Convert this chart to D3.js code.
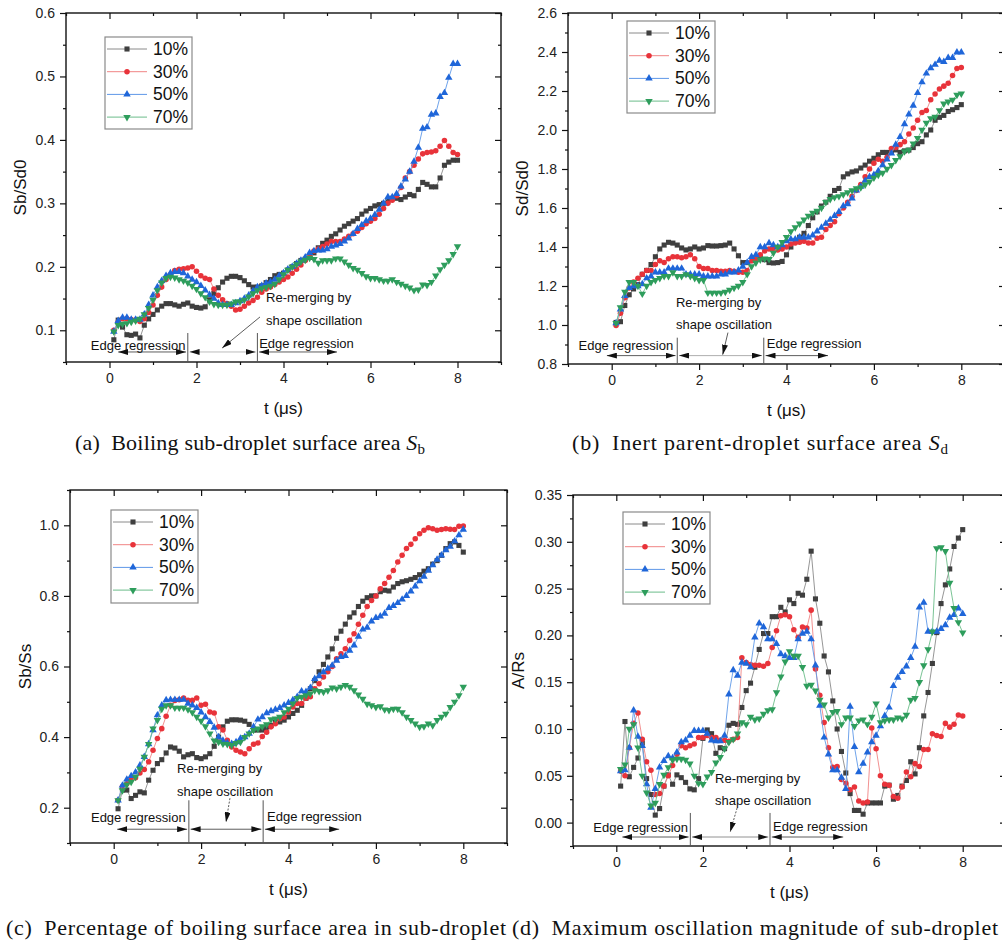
<!DOCTYPE html>
<html>
<head>
<meta charset="utf-8">
<script src="https://cdn.jsdelivr.net/npm/d3@7"></script>
<style>
  body { margin: 0; background: #fff; }
  svg { display: block; font-family: Arial, "Liberation Sans", sans-serif; }
</style>
</head>
<body>
<svg id="chart" width="1002" height="945"></svg>
<script>
(function() {
    "use strict";

    // sampling times, t (us)
    var tValues = [
        0.1, 0.2, 0.3, 0.4, 0.5, 0.6, 0.7, 0.8, 0.9, 1.0,
        1.1, 1.2, 1.3, 1.4, 1.5, 1.6, 1.7, 1.8, 1.9, 2.0,
        2.1, 2.2, 2.3, 2.4, 2.5, 2.6, 2.7, 2.8, 2.9, 3.0,
        3.1, 3.2, 3.3, 3.4, 3.5, 3.6, 3.7, 3.8, 3.9, 4.0,
        4.1, 4.2, 4.3, 4.4, 4.5, 4.6, 4.7, 4.8, 4.9, 5.0,
        5.1, 5.2, 5.3, 5.4, 5.5, 5.6, 5.7, 5.8, 5.9, 6.0,
        6.1, 6.2, 6.3, 6.4, 6.5, 6.6, 6.7, 6.8, 6.9, 7.0,
        7.1, 7.2, 7.3, 7.4, 7.5, 7.6, 7.7, 7.8, 7.9, 8.0
    ];
    var seriesNames = ["10%", "30%", "50%", "70%"];

    // (a) Sb/Sd0
    var sbSd0_10 = [
        0.085, 0.116, 0.105, 0.093, 0.092, 0.094, 0.088, 0.108, 0.118, 0.125,
        0.132, 0.138, 0.142, 0.142, 0.140, 0.138, 0.141, 0.143, 0.138, 0.136,
        0.135, 0.137, 0.148, 0.158, 0.167, 0.176, 0.182, 0.185, 0.185, 0.183,
        0.178, 0.172, 0.168, 0.168, 0.170, 0.175, 0.180, 0.186, 0.188, 0.190,
        0.195, 0.200, 0.205, 0.210, 0.212, 0.215, 0.222, 0.230, 0.237, 0.242,
        0.248, 0.252, 0.258, 0.264, 0.268, 0.272, 0.276, 0.283, 0.288, 0.292,
        0.296, 0.298, 0.300, 0.304, 0.308, 0.308, 0.306, 0.310, 0.314, 0.312,
        0.322, 0.333, 0.330, 0.326, 0.326, 0.340, 0.360, 0.365, 0.368, 0.368
    ];
    var sbSd0_30 = [
        0.100, 0.113, 0.118, 0.118, 0.117, 0.116, 0.114, 0.118, 0.128, 0.140,
        0.155, 0.168, 0.180, 0.188, 0.194, 0.196, 0.197, 0.198, 0.200, 0.193,
        0.186, 0.182, 0.180, 0.165, 0.155, 0.148, 0.142, 0.138, 0.132, 0.133,
        0.138, 0.143, 0.147, 0.152, 0.160, 0.165, 0.168, 0.172, 0.176, 0.180,
        0.184, 0.190, 0.196, 0.203, 0.210, 0.218, 0.225, 0.228, 0.232, 0.236,
        0.240, 0.240, 0.240, 0.244, 0.248, 0.252, 0.256, 0.262, 0.268, 0.272,
        0.276, 0.283, 0.292, 0.300, 0.305, 0.312, 0.325, 0.340, 0.350, 0.360,
        0.370, 0.378, 0.380, 0.381, 0.383, 0.390, 0.399, 0.390, 0.380, 0.377
    ];
    var sbSd0_50 = [
        0.098, 0.115, 0.120, 0.120, 0.117, 0.117, 0.117, 0.125, 0.140, 0.155,
        0.168, 0.178, 0.186, 0.190, 0.192, 0.192, 0.190, 0.185, 0.180, 0.176,
        0.170, 0.163, 0.156, 0.150, 0.143, 0.140, 0.140, 0.140, 0.143, 0.146,
        0.150, 0.155, 0.162, 0.168, 0.170, 0.174, 0.176, 0.180, 0.186, 0.190,
        0.196, 0.200, 0.205, 0.210, 0.215, 0.222, 0.225, 0.226, 0.226, 0.228,
        0.232, 0.234, 0.236, 0.240, 0.245, 0.252, 0.260, 0.266, 0.272, 0.276,
        0.282, 0.290, 0.300, 0.310, 0.310, 0.315, 0.327, 0.338, 0.350, 0.366,
        0.388, 0.418, 0.420, 0.440, 0.442, 0.468, 0.474, 0.498, 0.520, 0.520
    ];
    var sbSd0_70 = [
        0.098, 0.108, 0.110, 0.111, 0.113, 0.115, 0.118, 0.125, 0.135, 0.148,
        0.163, 0.175, 0.182, 0.184, 0.183, 0.180, 0.178, 0.175, 0.170, 0.165,
        0.158, 0.152, 0.145, 0.141, 0.140, 0.140, 0.140, 0.142, 0.145, 0.145,
        0.148, 0.153, 0.158, 0.163, 0.166, 0.168, 0.170, 0.173, 0.180, 0.188,
        0.195, 0.200, 0.204, 0.208, 0.211, 0.214, 0.212, 0.206, 0.210, 0.210,
        0.210, 0.213, 0.213, 0.208, 0.203, 0.198, 0.195, 0.190, 0.185, 0.182,
        0.182, 0.180, 0.178, 0.178, 0.180, 0.176, 0.173, 0.170, 0.167, 0.163,
        0.164, 0.172, 0.171, 0.176, 0.186, 0.196, 0.203, 0.210, 0.220, 0.232
    ];

    // (b) Sd/Sd0
    var sdSd0_10 = [
        1.013, 1.017, 1.100, 1.155, 1.185, 1.207, 1.260, 1.280, 1.310, 1.350,
        1.390, 1.410, 1.424, 1.420, 1.410, 1.395, 1.385, 1.390, 1.400, 1.390,
        1.395, 1.407, 1.405, 1.405, 1.407, 1.410, 1.420, 1.390, 1.355, 1.320,
        1.320, 1.330, 1.345, 1.345, 1.335, 1.320, 1.318, 1.320, 1.326, 1.360,
        1.400, 1.430, 1.450, 1.470, 1.510, 1.550, 1.580, 1.610, 1.630, 1.660,
        1.690, 1.700, 1.760, 1.775, 1.785, 1.790, 1.805, 1.820, 1.840, 1.855,
        1.873, 1.885, 1.885, 1.885, 1.898, 1.885, 1.893, 1.897, 1.910, 1.930,
        1.940, 1.975, 2.000, 2.050, 2.065, 2.075, 2.095, 2.104, 2.115, 2.130
    ];
    var sdSd0_30 = [
        0.998, 1.060, 1.140, 1.190, 1.220, 1.240, 1.260, 1.280, 1.280, 1.310,
        1.330, 1.320, 1.340, 1.350, 1.350, 1.345, 1.350, 1.360, 1.340, 1.300,
        1.290, 1.290, 1.280, 1.280, 1.275, 1.275, 1.280, 1.275, 1.270, 1.270,
        1.280, 1.330, 1.340, 1.360, 1.380, 1.390, 1.390, 1.385, 1.390, 1.400,
        1.415, 1.420, 1.425, 1.430, 1.420, 1.420, 1.445, 1.450, 1.490, 1.510,
        1.530, 1.570, 1.600, 1.630, 1.660, 1.690, 1.720, 1.760, 1.800, 1.830,
        1.850, 1.840, 1.860, 1.905, 1.910, 1.925, 1.940, 1.980, 2.010, 2.050,
        2.090, 2.100, 2.155, 2.185, 2.210, 2.225, 2.240, 2.280, 2.315, 2.320
    ];
    var sdSd0_50 = [
        1.010, 1.080, 1.150, 1.190, 1.200, 1.200, 1.210, 1.240, 1.250, 1.270,
        1.270, 1.270, 1.290, 1.290, 1.290, 1.290, 1.260, 1.260, 1.260, 1.260,
        1.250, 1.250, 1.250, 1.250, 1.260, 1.260, 1.270, 1.270, 1.280, 1.300,
        1.320, 1.350, 1.360, 1.400, 1.400, 1.420, 1.410, 1.400, 1.410, 1.430,
        1.440, 1.440, 1.450, 1.450, 1.450, 1.460, 1.480, 1.500, 1.520, 1.540,
        1.560, 1.580, 1.610, 1.620, 1.650, 1.690, 1.710, 1.740, 1.760, 1.770,
        1.790, 1.820, 1.850, 1.880, 1.925, 1.965, 2.030, 2.080, 2.125, 2.190,
        2.245, 2.290, 2.318, 2.335, 2.356, 2.350, 2.370, 2.370, 2.398, 2.398
    ];
    var sdSd0_70 = [
        1.010, 1.090, 1.170, 1.220, 1.220, 1.200, 1.160, 1.200, 1.220, 1.230,
        1.240, 1.250, 1.250, 1.270, 1.250, 1.250, 1.260, 1.250, 1.240, 1.230,
        1.230, 1.165, 1.165, 1.165, 1.165, 1.170, 1.180, 1.190, 1.200, 1.220,
        1.260, 1.300, 1.320, 1.335, 1.340, 1.338, 1.370, 1.400, 1.425, 1.450,
        1.480, 1.500, 1.520, 1.540, 1.560, 1.575, 1.585, 1.600, 1.630, 1.645,
        1.655, 1.660, 1.670, 1.680, 1.690, 1.700, 1.705, 1.720, 1.735, 1.755,
        1.770, 1.780, 1.800, 1.820, 1.845, 1.865, 1.890, 1.898, 1.930, 1.958,
        2.000, 2.036, 2.060, 2.067, 2.100, 2.135, 2.145, 2.155, 2.180, 2.186
    ];

    // (c) Sb/Ss
    var sbSs_10 = [
        0.197, 0.250, 0.250, 0.226, 0.235, 0.245, 0.242, 0.278, 0.306, 0.325,
        0.336, 0.355, 0.372, 0.369, 0.360, 0.344, 0.350, 0.353, 0.342, 0.339,
        0.344, 0.353, 0.374, 0.400, 0.429, 0.445, 0.449, 0.449, 0.448, 0.445,
        0.436, 0.420, 0.420, 0.420, 0.425, 0.433, 0.443, 0.443, 0.448, 0.457,
        0.467, 0.476, 0.490, 0.510, 0.537, 0.560, 0.585, 0.606, 0.627, 0.650,
        0.680, 0.700, 0.720, 0.740, 0.752, 0.770, 0.785, 0.795, 0.800, 0.800,
        0.812, 0.816, 0.814, 0.825, 0.835, 0.840, 0.843, 0.847, 0.852, 0.860,
        0.870, 0.877, 0.890, 0.900, 0.915, 0.934, 0.948, 0.953, 0.943, 0.924
    ];
    var sbSs_30 = [
        0.221, 0.260, 0.268, 0.282, 0.285, 0.298, 0.308, 0.330, 0.363, 0.396,
        0.424, 0.459, 0.490, 0.504, 0.506, 0.511, 0.504, 0.504, 0.511, 0.490,
        0.493, 0.471, 0.468, 0.429, 0.420, 0.391, 0.372, 0.363, 0.358, 0.353,
        0.367, 0.380, 0.383, 0.402, 0.414, 0.429, 0.438, 0.452, 0.457, 0.471,
        0.485, 0.495, 0.495, 0.510, 0.514, 0.537, 0.551, 0.570, 0.585, 0.600,
        0.622, 0.636, 0.650, 0.674, 0.693, 0.720, 0.745, 0.770, 0.787, 0.800,
        0.820, 0.835, 0.853, 0.872, 0.896, 0.915, 0.934, 0.946, 0.962, 0.976,
        0.986, 0.993, 0.990, 0.986, 0.988, 0.990, 0.989, 0.988, 0.997, 0.998
    ];
    var sbSs_50 = [
        0.221, 0.263, 0.280, 0.290, 0.300, 0.320, 0.344, 0.380, 0.420, 0.462,
        0.490, 0.505, 0.506, 0.506, 0.506, 0.506, 0.495, 0.490, 0.483, 0.470,
        0.457, 0.443, 0.427, 0.400, 0.390, 0.383, 0.381, 0.386, 0.396, 0.400,
        0.410, 0.429, 0.450, 0.457, 0.468, 0.474, 0.478, 0.483, 0.490, 0.497,
        0.505, 0.514, 0.530, 0.528, 0.540, 0.565, 0.573, 0.584, 0.594, 0.603,
        0.617, 0.627, 0.630, 0.645, 0.660, 0.685, 0.705, 0.710, 0.728, 0.738,
        0.742, 0.750, 0.766, 0.772, 0.780, 0.790, 0.800, 0.813, 0.827, 0.842,
        0.855, 0.872, 0.887, 0.903, 0.915, 0.930, 0.940, 0.955, 0.972, 0.988
    ];
    var sbSs_70 = [
        0.221, 0.249, 0.265, 0.273, 0.287, 0.310, 0.344, 0.380, 0.424, 0.448,
        0.480, 0.490, 0.490, 0.483, 0.483, 0.483, 0.478, 0.470, 0.457, 0.446,
        0.430, 0.410, 0.390, 0.386, 0.381, 0.380, 0.377, 0.383, 0.386, 0.400,
        0.410, 0.420, 0.424, 0.430, 0.436, 0.450, 0.452, 0.457, 0.470, 0.480,
        0.495, 0.510, 0.514, 0.518, 0.523, 0.532, 0.530, 0.528, 0.532, 0.540,
        0.537, 0.542, 0.547, 0.542, 0.532, 0.520, 0.508, 0.494, 0.490, 0.485,
        0.487, 0.478, 0.476, 0.480, 0.480, 0.470, 0.457, 0.448, 0.438, 0.429,
        0.430, 0.438, 0.433, 0.448, 0.457, 0.466, 0.485, 0.500, 0.518, 0.542
    ];

    // (d) A/Rs
    var aRs_10 = [
        0.039, 0.108, 0.049, 0.059, 0.069, 0.085, 0.047, 0.030, 0.008, 0.015,
        0.039, 0.051, 0.041, 0.051, 0.048, 0.043, 0.036, 0.035, 0.047, 0.090,
        0.099, 0.095, 0.074, 0.080, 0.079, 0.104, 0.106, 0.105, 0.123, 0.141,
        0.149, 0.166, 0.185, 0.202, 0.202, 0.220, 0.220, 0.230, 0.225, 0.238,
        0.234, 0.245, 0.243, 0.260, 0.290, 0.239, 0.213, 0.178, 0.161, 0.130,
        0.100, 0.076, 0.053, 0.031, 0.013, 0.013, 0.009, 0.021, 0.021, 0.021,
        0.021, 0.039, 0.040, 0.025, 0.029, 0.039, 0.045, 0.065, 0.052, 0.080,
        0.114, 0.139, 0.170, 0.203, 0.234, 0.254, 0.271, 0.295, 0.304, 0.313
    ];
    var aRs_30 = [
        0.055, 0.050, 0.080, 0.106, 0.117, 0.089, 0.065, 0.056, 0.030, 0.031,
        0.039, 0.050, 0.061, 0.073, 0.082, 0.080, 0.082, 0.084, 0.091, 0.091,
        0.093, 0.091, 0.091, 0.088, 0.088, 0.087, 0.089, 0.091, 0.176, 0.171,
        0.169, 0.168, 0.168, 0.167, 0.170, 0.187, 0.205, 0.221, 0.222, 0.220,
        0.206, 0.198, 0.209, 0.208, 0.227, 0.164, 0.136, 0.107, 0.080, 0.059,
        0.060, 0.046, 0.042, 0.035, 0.038, 0.023, 0.021, 0.022, 0.101, 0.079,
        0.050, 0.041, 0.040, 0.028, 0.026, 0.038, 0.054, 0.049, 0.063, 0.060,
        0.078, 0.078, 0.095, 0.093, 0.092, 0.106, 0.102, 0.105, 0.115, 0.114
    ];
    var aRs_50 = [
        0.055, 0.056, 0.080, 0.120, 0.092, 0.082, 0.041, 0.016, 0.036, 0.059,
        0.066, 0.071, 0.069, 0.075, 0.086, 0.088, 0.093, 0.098, 0.098, 0.098,
        0.095, 0.088, 0.087, 0.087, 0.093, 0.137, 0.163, 0.157, 0.171, 0.170,
        0.166, 0.198, 0.213, 0.209, 0.196, 0.196, 0.191, 0.180, 0.178, 0.176,
        0.176, 0.196, 0.202, 0.204, 0.196, 0.168, 0.125, 0.091, 0.073, 0.056,
        0.056, 0.048, 0.036, 0.124, 0.081, 0.054, 0.063, 0.075, 0.086, 0.093,
        0.103, 0.114, 0.123, 0.146, 0.155, 0.161, 0.167, 0.176, 0.188, 0.230,
        0.235, 0.204, 0.204, 0.204, 0.207, 0.211, 0.219, 0.222, 0.229, 0.223
    ];
    var aRs_70 = [
        0.057, 0.062, 0.100, 0.105, 0.080, 0.050, 0.032, 0.018, 0.021, 0.041,
        0.051, 0.059, 0.067, 0.068, 0.068, 0.067, 0.063, 0.050, 0.042, 0.041,
        0.049, 0.054, 0.064, 0.070, 0.079, 0.086, 0.089, 0.095, 0.107, 0.105,
        0.113, 0.110, 0.111, 0.116, 0.120, 0.121, 0.139, 0.156, 0.172, 0.183,
        0.178, 0.178, 0.166, 0.146, 0.147, 0.141, 0.131, 0.126, 0.112, 0.118,
        0.119, 0.105, 0.112, 0.112, 0.103, 0.109, 0.110, 0.105, 0.113, 0.127,
        0.107, 0.109, 0.110, 0.110, 0.112, 0.111, 0.115, 0.131, 0.133, 0.150,
        0.168, 0.185, 0.204, 0.293, 0.294, 0.290, 0.256, 0.229, 0.214, 0.203
    ];

    // tick labels
    var xTickLabels = [0, 2, 4, 6, 8];
    var yTicksA = [0.1, 0.2, 0.3, 0.4, 0.5, 0.6];
    var yTicksB = [0.8, 1.0, 1.2, 1.4, 1.6, 1.8, 2.0, 2.2, 2.4, 2.6];
    var yTicksC = [0.2, 0.4, 0.6, 0.8, 1.0];
    var yTicksD = [0.00, 0.05, 0.10, 0.15, 0.20, 0.25, 0.30, 0.35];

    var markerFill = ["#3f3f3f", "#e8333a", "#1f66d9", "#2e9d5c"];
    var lineColor = ["#8a8a8a", "#f08484", "#5f98e8", "#6cbd8a"];
    var symbols = [d3.symbolSquare, d3.symbolCircle, d3.symbolTriangle, d3.symbolTriangle];
    var symbolSize = [26, 24, 24, 24];
    var symbolRot = [0, 0, 0, 180];

    // layout of the four panels (pixel frame + annotation spots in data units)
    var panels = [
        { box: [66, 13, 501, 362], yDomain: [0.05, 0.6], yTicks: yTicksA, yMinorStep: 0.05, fmt: ".1f",
          yLabel: "Sb/Sd0", yLabelX: 20, series: [sbSd0_10, sbSd0_30, sbSd0_50, sbSd0_70],
          legend: [105, 37, 87, 92],
          ann: { y: 0.0658, div: [0.0957, 0.05], cuts: [0.2, 1.8, 3.4, 5.23], edge1: [-0.43, 0.0689], edge2: [3.44, 0.072],
                 remerge: [3.6, 0.145, 0.108], pointer: [3.46, 0.121, 2.59, 0.072], dashed: false, midColor: "#aaa" } },
        { box: [568, 13, 1005, 364], yDomain: [0.8, 2.6], yTicks: yTicksB, yMinorStep: 0.1, fmt: ".1f",
          yLabel: "Sd/Sd0", yLabelX: 522, series: [sdSd0_10, sdSd0_30, sdSd0_50, sdSd0_70],
          legend: [627, 21, 88, 92],
          ann: { y: 0.843, div: [0.935, 0.8], cuts: [-0.11, 1.5, 3.48, 4.95], edge1: [-0.76, 0.873], edge2: [3.55, 0.883],
                 remerge: [1.47, 1.094, 0.98], pointer: [2.66, 0.961, 2.54, 0.848], dashed: false, midColor: "#999" } },
        { box: [70, 490, 507, 843], yDomain: [0.1, 1.1], yTicks: yTicksC, yMinorStep: 0.1, fmt: ".1f",
          yLabel: "Sb/Ss", yLabelX: 25, series: [sbSs_10, sbSs_30, sbSs_50, sbSs_70],
          legend: [111, 510, 87, 93],
          ann: { y: 0.139, div: [0.221, 0.1], cuts: [0.08, 1.72, 3.42, 5.16], edge1: [-0.52, 0.159], edge2: [3.51, 0.162],
                 remerge: [1.45, 0.298, 0.232], pointer: [2.66, 0.227, 2.57, 0.159], dashed: true, midColor: "#333" } },
        { box: [573, 495, 1006, 846], yDomain: [-0.025, 0.35], yTicks: yTicksD, yMinorStep: 0.025, fmt: ".2f",
          yLabel: "A/Rs", yLabelX: 518, series: [aRs_10, aRs_30, aRs_50, aRs_70],
          legend: [623, 512, 87, 92],
          ann: { y: -0.0154, div: [0.0103, -0.025], cuts: [0.14, 1.71, 3.55, 5.24], edge1: [-0.53, -0.01], edge2: [3.62, -0.009],
                 remerge: [2.28, 0.0423, 0.0188], pointer: [2.79, 0.0156, 2.63, -0.01], dashed: true, midColor: "#777" } }
    ];

    var captions = [
        { x: 75, y: 450, w: 350, text: "(a)\u2002Boiling sub-droplet surface area ", sym: "S", sub: "b" },
        { x: 572, y: 450, w: 376, text: "(b)\u2002Inert parent-droplet surface area ", sym: "S", sub: "d" },
        { x: 6, y: 935, w: 500, text: "(c)\u2002Percentage of boiling surface area in sub-droplet", sym: "", sub: "" },
        { x: 512, y: 935, w: 486, text: "(d)\u2002Maximum oscillation magnitude of sub-droplet", sym: "", sub: "" }
    ];

    var svg = d3.select("#chart");

    var defs = svg.append("defs");
    defs.append("marker")
        .attr("id", "head")
        .attr("viewBox", "0 0 10 6")
        .attr("refX", 10).attr("refY", 3)
        .attr("markerWidth", 10).attr("markerHeight", 6)
        .attr("markerUnits", "userSpaceOnUse")
        .attr("orient", "auto-start-reverse")
        .append("path")
        .attr("d", "M0,0 L10,3 L0,6 Z")
        .attr("fill", "#111");

    panels.forEach(drawPanel);

    // Draws one panel: frame, ticks, series, legend and the annotations.
    function drawPanel(p) {
        var left = p.box[0], top = p.box[1], right = p.box[2], bottom = p.box[3];
        var x = d3.scaleLinear().domain([-1, 9]).range([left, right]);
        var y = d3.scaleLinear().domain(p.yDomain).range([bottom, top]);
        var g = svg.append("g");

        var xMinor = [-1, 1, 3, 5, 7, 9];
        var yMinor = d3.range(p.yDomain[0], p.yDomain[1] + 1e-9, p.yMinorStep)
            .filter(function(v) {
                return !p.yTicks.some(function(m) { return Math.abs(m - v) < 1e-6; });
            });

        function styleAxis(sel) {
            sel.select(".domain").remove();
            sel.selectAll("line").attr("stroke", "#111").attr("stroke-width", 1.2);
            sel.selectAll("text").attr("fill", "#222").style("font-size", "14px")
                .style("font-family", "Arial, 'Liberation Sans', sans-serif");
        }

        // bottom axis
        g.append("g").attr("transform", "translate(0," + bottom + ")")
            .call(d3.axisBottom(x).tickValues(xTickLabels).tickSize(6).tickPadding(5).tickFormat(d3.format("d")))
            .call(styleAxis);
        g.append("g").attr("transform", "translate(0," + bottom + ")")
            .call(d3.axisBottom(x).tickValues(xMinor).tickSize(3).tickFormat(""))
            .call(styleAxis);
        // top mirror ticks
        g.append("g").attr("transform", "translate(0," + top + ")")
            .call(d3.axisTop(x).tickValues(xTickLabels).tickSize(-6).tickFormat(""))
            .call(styleAxis);
        g.append("g").attr("transform", "translate(0," + top + ")")
            .call(d3.axisTop(x).tickValues(xMinor).tickSize(-3).tickFormat(""))
            .call(styleAxis);
        // left axis
        g.append("g").attr("transform", "translate(" + left + ",0)")
            .call(d3.axisLeft(y).tickValues(p.yTicks).tickSize(6).tickPadding(5).tickFormat(d3.format(p.fmt)))
            .call(styleAxis);
        g.append("g").attr("transform", "translate(" + left + ",0)")
            .call(d3.axisLeft(y).tickValues(yMinor).tickSize(3).tickFormat(""))
            .call(styleAxis);
        // right mirror ticks
        g.append("g").attr("transform", "translate(" + right + ",0)")
            .call(d3.axisRight(y).tickValues(p.yTicks).tickSize(-6).tickFormat(""))
            .call(styleAxis);
        g.append("g").attr("transform", "translate(" + right + ",0)")
            .call(d3.axisRight(y).tickValues(yMinor).tickSize(-3).tickFormat(""))
            .call(styleAxis);

        g.append("rect")
            .attr("x", left).attr("y", top)
            .attr("width", right - left).attr("height", bottom - top)
            .attr("fill", "none").attr("stroke", "#111").attr("stroke-width", 1.4);

        // axis titles
        g.append("text")
            .attr("x", (left + right) / 2).attr("y", bottom + 52)
            .attr("text-anchor", "middle")
            .style("font-size", "17px").attr("fill", "#111")
            .text("t (\u03bcs)");
        g.append("text")
            .attr("transform", "translate(" + (p.yLabelX + 6) + "," + ((top + bottom) / 2) + ") rotate(-90)")
            .attr("text-anchor", "middle")
            .style("font-size", "17px").attr("fill", "#111")
            .text(p.yLabel);

        // annotations
        drawAnnotations(g, p.ann, x, y);

        // series
        var line = d3.line()
            .x(function(d) { return x(d[0]); })
            .y(function(d) { return y(d[1]); });

        p.series.forEach(function(values, k) {
            var pts = values.map(function(v, i) { return [tValues[i], v]; });
            g.append("path")
                .datum(pts)
                .attr("fill", "none")
                .attr("stroke", lineColor[k])
                .attr("stroke-width", 0.9)
                .attr("d", line);
            g.selectAll(".pt" + k)
                .data(pts)
                .enter()
                .append("path")
                .attr("class", "pt" + k)
                .attr("transform", function(d) {
                    return "translate(" + x(d[0]) + "," + y(d[1]) + ") rotate(" + symbolRot[k] + ")";
                })
                .attr("d", d3.symbol().type(symbols[k]).size(symbolSize[k]))
                .attr("fill", markerFill[k]);
        });

        // legend
        var lg = g.append("g").attr("transform", "translate(" + p.legend[0] + "," + p.legend[1] + ")");
        lg.append("rect")
            .attr("width", p.legend[2]).attr("height", p.legend[3])
            .attr("fill", "#fff").attr("stroke", "#8a8a8a").attr("stroke-width", 1.2);
        seriesNames.forEach(function(name, k) {
            var cy = 12 + k * 22.7;
            lg.append("line")
                .attr("x1", 2).attr("x2", 42).attr("y1", cy).attr("y2", cy)
                .attr("stroke", lineColor[k]).attr("stroke-width", 1);
            lg.append("path")
                .attr("transform", "translate(22," + cy + ") rotate(" + symbolRot[k] + ")")
                .attr("d", d3.symbol().type(symbols[k]).size(symbolSize[k]))
                .attr("fill", markerFill[k]);
            lg.append("text")
                .attr("x", 48).attr("y", cy + 6)
                .style("font-size", "17.5px").attr("fill", "#111")
                .text(name);
        });
    }

    // "Edge regression" / "Re-merging by shape oscillation" markup near the t axis.
    function drawAnnotations(g, a, x, y) {
        var ay = y(a.y);
        var c = a.cuts;
        var segs = [[c[0], c[1] - 0.04], [c[1] + 0.04, c[2] - 0.04], [c[2] + 0.04, c[3]]];
        segs.forEach(function(s, i) {
            g.append("line")
                .attr("x1", x(s[0])).attr("x2", x(s[1]))
                .attr("y1", ay).attr("y2", ay)
                .attr("stroke", i === 1 ? a.midColor : "#333").attr("stroke-width", 0.8)
                .attr("marker-start", "url(#head)")
                .attr("marker-end", "url(#head)");
        });
        [c[1], c[2]].forEach(function(t) {
            g.append("line")
                .attr("x1", x(t)).attr("x2", x(t))
                .attr("y1", y(a.div[0])).attr("y2", y(a.div[1]))
                .attr("stroke", "#555").attr("stroke-width", 1);
        });
        var txt = function(t, v, s) {
            g.append("text")
                .attr("x", x(t)).attr("y", y(v))
                .style("font-size", "13px").attr("fill", "#111")
                .text(s);
        };
        txt(a.edge1[0], a.edge1[1], "Edge regression");
        txt(a.edge2[0], a.edge2[1], "Edge regression");
        txt(a.remerge[0], a.remerge[1], "Re-merging by");
        txt(a.remerge[0], a.remerge[2], "shape oscillation");
        g.append("line")
            .attr("x1", x(a.pointer[0])).attr("y1", y(a.pointer[1]))
            .attr("x2", x(a.pointer[2])).attr("y2", y(a.pointer[3]))
            .attr("stroke", "#333").attr("stroke-width", 0.8)
            .attr("stroke-dasharray", a.dashed ? "2,1.5" : null)
            .attr("marker-end", "url(#head)");
    }

    // figure captions
    captions.forEach(function(c) {
        var t = svg.append("text")
            .attr("x", c.x).attr("y", c.y)
            .attr("textLength", c.w)
            .attr("lengthAdjust", "spacing")
            .style("font-family", "'Times New Roman', 'Liberation Serif', serif")
            .style("font-size", "22px").attr("fill", "#111");
        t.append("tspan").text(c.text);
        if (c.sym) {
            t.append("tspan").style("font-style", "italic").text(c.sym);
            t.append("tspan").attr("dy", 4).style("font-size", "15px").text(c.sub);
        }
    });
})();
</script>
</body>
</html>
